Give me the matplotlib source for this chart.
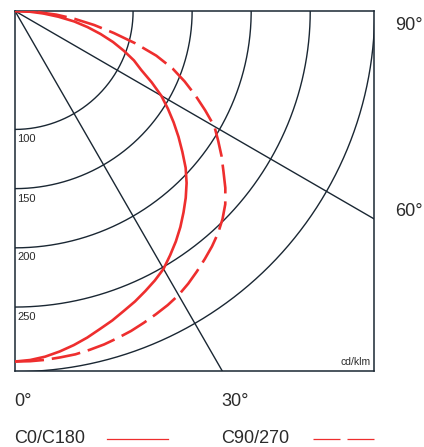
import numpy as np
import matplotlib
matplotlib.use("Agg")
import matplotlib.pyplot as plt

# ---- data (cd/klm vs. gamma angle, degrees from nadir) ----
angles = [0, 2.5, 5, 7.5, 10, 12.5, 15, 17.5, 20, 22.5, 25, 27.5, 30, 32.5, 35, 37.5,
          40, 42.5, 45, 47.5, 50, 52.5, 55, 57.5, 60, 62.5, 65, 67.5, 70, 72.5, 75,
          77.5, 80, 82.5, 85, 87.5, 90]
c0_c180 = [296, 295, 293, 290, 286.5, 282.5, 278, 274, 269.5, 265.5, 261, 256.5, 251.5,
           244.5, 237.5, 230, 222, 214, 205.5, 196, 185, 174.5, 164, 153.5, 143, 130.5,
           118, 109, 98, 87, 75, 63, 51, 37, 24, 12, 0]
c90_c270 = [296, 296, 295.7, 295, 294.4, 293, 291.5, 289.5, 287.5, 285, 282.5, 280, 277,
            273, 268.5, 264, 259.5, 254.5, 248.5, 241.5, 232.5, 222.5, 213.5, 204, 195,
            181.5, 168.5, 155.5, 142, 125.5, 105.5, 85.5, 68, 51, 35, 18, 0]
ring_values = [100, 150, 200, 250]
ring_labels = ["100", "150", "200", "250"]
outer_ring = 304.6
radial_angles = [30, 60]
angle_labels = ["0°", "30°", "60°", "90°"]
series_names = ["C0/C180", "C90/270"]
unit_label = "cd/klm"

RED = "#ee2e2e"
GRID = "#1a2733"
TXT = "#2b2b2b"
B = 304.0

plt.rcParams['font.family'] = ['Liberation Sans', 'DejaVu Sans']

fig = plt.figure(figsize=(4.24, 4.47), dpi=100)
W, H = 424, 447
ax = fig.add_axes([15 / W, (H - 371) / H, 359 / W, 360 / H])
ax.set_xlim(0, B)
ax.set_ylim(-B, 0)
ax.set_xticks([])
ax.set_yticks([])
for s in ax.spines.values():
    s.set_color(GRID)
    s.set_linewidth(1.1)


def to_xy(theta_deg, r):
    t = np.radians(np.asarray(theta_deg, dtype=float))
    r = np.asarray(r, dtype=float)
    return r * np.sin(t), -r * np.cos(t)


arc = np.linspace(0, 90, 361)
for rv in ring_values + [outer_ring]:
    x, y = to_xy(arc, np.full_like(arc, rv))
    ax.plot(x, y, color=GRID, lw=1.0, zorder=1)
for a in radial_angles:
    x, y = to_xy([a, a], [0, 2 * B])
    ax.plot(x, y, color=GRID, lw=1.0, zorder=1)

x, y = to_xy(angles, c0_c180)
ax.plot(x, y, color=RED, lw=1.9, solid_capstyle='butt', solid_joinstyle='round', zorder=3)
x, y = to_xy(angles, c90_c270)
ax.plot(x, y, color=RED, lw=1.9, linestyle=(0, (11, 3)), dash_capstyle='butt', zorder=3)

# overlay in pixel coordinates for text
ov = fig.add_axes([0, 0, 1, 1], facecolor='none')
ov.set_xlim(0, W)
ov.set_ylim(H, 0)
ov.axis('off')

ring_y = [139.5, 198.5, 256.5, 317.5]
for lab, yy in zip(ring_labels, ring_y):
    ov.text(17.5, yy, lab, fontsize=8, color=TXT, ha='left', va='center')
ov.text(371, 362, unit_label, fontsize=7.5, color=TXT, ha='right', va='center')

ov.text(395, 25, angle_labels[3], fontsize=13, color=TXT, ha='left', va='center')
ov.text(395, 212, angle_labels[2], fontsize=13, color=TXT, ha='left', va='center')
ov.text(14, 401, angle_labels[0], fontsize=13, color=TXT, ha='left', va='center')
ov.text(221.5, 401, angle_labels[1], fontsize=13, color=TXT, ha='left', va='center')

ov.text(14, 438.5, series_names[0], fontsize=13, color=TXT, ha='left', va='center')
ov.text(221.5, 438.5, series_names[1], fontsize=13, color=TXT, ha='left', va='center')
ov.plot([106.7, 167.7], [438.5, 438.5], color=RED, lw=0.9)
ov.plot([313, 375], [438.5, 438.5], color=RED, lw=0.9, linestyle=(0, (21.6, 5.6)),
        dash_capstyle='butt')

fig.savefig("out.png", dpi=100)
